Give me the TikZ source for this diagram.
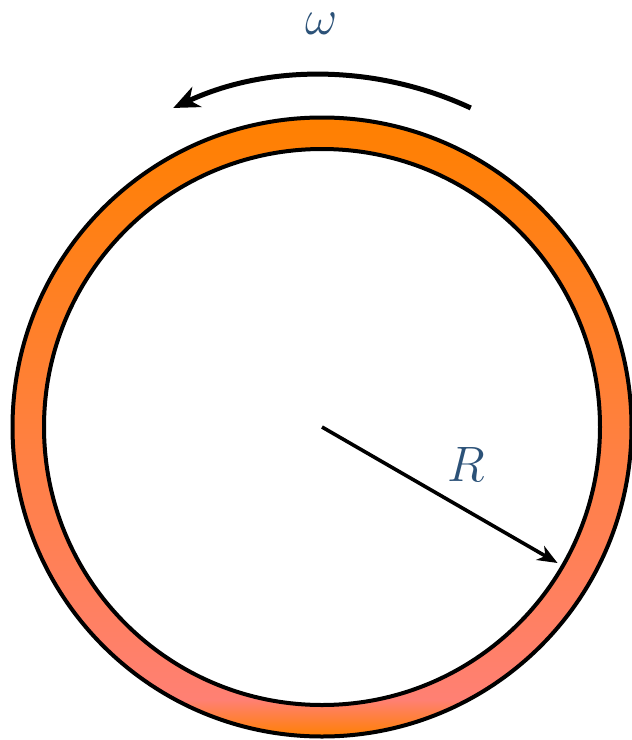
\documentclass[tikz,border=0pt]{standalone}
\usetikzlibrary{arrows.meta,calc}
\definecolor{ringorange}{RGB}{255,128,0}
\definecolor{ringsalmon}{RGB}{255,128,115}
\definecolor{labelblue}{RGB}{44,82,120}
\pgfdeclareverticalshading{ringshade}{100bp}{color(0bp)=(ringorange); color(25bp)=(ringorange); color(28bp)=(ringsalmon); color(75bp)=(ringorange); color(100bp)=(ringorange)}
\tikzset{
  ringline/.style={line width=2pt, draw=black},
  lbl/.style={text=labelblue, font=\fontsize{26}{30}\selectfont, inner sep=0pt},
  spinarrow/.style={line width=2.5pt, -{Stealth[length=13pt,width=11pt,inset=4pt]}},
  radarrow/.style={line width=1.8pt, -{Stealth[length=10pt,width=8pt,inset=3pt]}}
}
\begin{document}
\begin{tikzpicture}[x=0.5pt,y=-0.5pt]
\useasboundingbox (0,0) rectangle (632,740);
\coordinate (c) at (322,427);
\shade[shading=ringshade, even odd rule] (c) circle[radius=310] (c) circle[radius=278];
\draw[ringline] (c) circle[radius=309.5];
\draw[ringline] (c) circle[radius=278];
\coordinate (arcstart) at ($(c)+(-65:352)$);
\draw[spinarrow] (arcstart) arc[start angle=-65, end angle=-115, radius=352];
\coordinate (rtip) at ($(c)+(30:272)$);
\draw[radarrow] (c) -- (rtip);
\node[lbl] (omega) at (322,24) {$\omega$};
\node[lbl] (rlabel) at (466,464) {$R$};
\end{tikzpicture}
\end{document}
